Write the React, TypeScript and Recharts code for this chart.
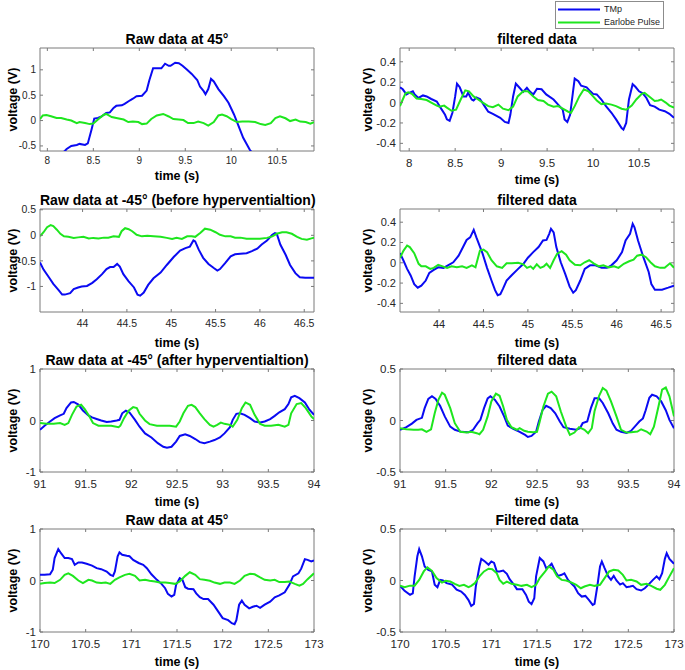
import { LineChart, Line, XAxis, YAxis, ReferenceArea, Legend } from "recharts";

type Pt = [number, number];

// raw data at 45°, 8 - 11 s
const raw45TmpA: Pt[] = [
  [7.92, -0.95], [8.1, -0.72], [8.19, -0.6], [8.21, -0.56], [8.26, -0.5], [8.32, -0.48], [8.35, -0.46],
  [8.41, -0.48], [8.44, -0.45], [8.48, -0.18], [8.51, 0.04], [8.55, 0.05], [8.59, 0.08], [8.64, 0.15],
  [8.68, 0.16], [8.72, 0.25], [8.75, 0.29], [8.81, 0.3], [8.84, 0.33], [8.9, 0.4], [8.93, 0.43],
  [8.97, 0.48], [9.03, 0.49], [9.08, 0.59], [9.11, 0.8], [9.15, 1.03], [9.19, 1.03], [9.24, 1.03],
  [9.28, 1.12], [9.32, 1.08], [9.34, 1.08], [9.39, 1.14], [9.43, 1.13], [9.47, 1.08], [9.52, 1.0],
  [9.57, 0.92], [9.63, 0.8], [9.66, 0.67], [9.7, 0.58], [9.72, 0.52], [9.75, 0.62], [9.78, 0.82],
  [9.81, 0.77], [9.86, 0.62], [9.92, 0.48], [9.97, 0.35], [10.03, 0.12], [10.08, -0.11], [10.13, -0.34],
  [10.2, -0.57], [10.22, -0.62], [10.35, -1.0],
];
const raw45EarA: Pt[] = [
  [7.92, 0.03], [7.95, 0.1], [7.99, 0.11], [8.04, 0.085], [8.1, 0.05], [8.15, 0.05], [8.21, 0.02],
  [8.26, 0], [8.32, -0.05], [8.35, -0.03], [8.41, -0.05], [8.46, -0.07], [8.5, -0.06], [8.55, 0.02],
  [8.61, 0.11], [8.64, 0.13], [8.7, 0.07], [8.75, 0.05], [8.83, 0.02], [8.88, -0.03], [8.93, -0.02],
  [8.99, -0.03], [9.03, -0.07], [9.08, -0.06], [9.13, 0.03], [9.19, 0.1], [9.26, 0.13], [9.32, 0.08],
  [9.37, 0.03], [9.43, 0.02], [9.48, 0.01], [9.53, -0.05], [9.59, -0.05], [9.64, -0.02], [9.7, -0.05],
  [9.75, -0.1], [9.81, -0.03], [9.86, 0.1], [9.9, 0.12], [9.95, 0.085], [10.0, 0.03], [10.06, -0.03],
  [10.12, -0.02], [10.19, -0.02], [10.26, -0.03], [10.32, -0.07], [10.37, -0.085], [10.43, -0.05],
  [10.48, 0.05], [10.53, 0.085], [10.59, 0.045], [10.64, -0.01], [10.7, 0.02], [10.75, -0.02],
  [10.81, -0.03], [10.86, -0.06], [10.9, -0.03],
];

// filtered data, 8 - 11 s
const filtTmpA: Pt[] = [
  [7.9, 0.15], [7.93, 0.13], [7.97, 0.08], [8.0, 0.095], [8.04, 0.11], [8.06, 0.08], [8.1, 0.045],
  [8.15, 0.07], [8.19, 0.06], [8.24, 0.035], [8.3, 0.01], [8.33, -0.035], [8.39, -0.12], [8.41, -0.165],
  [8.44, -0.18], [8.47, -0.1], [8.5, 0.06], [8.52, 0.185], [8.55, 0.15], [8.59, 0.06], [8.62, 0.06],
  [8.64, 0.095], [8.68, 0.03], [8.7, 0.02], [8.73, 0.05], [8.77, 0.035], [8.82, -0.035], [8.86, -0.09],
  [8.91, -0.11], [8.99, -0.15], [9.04, -0.19], [9.08, -0.2], [9.1, -0.12], [9.13, 0.06], [9.16, 0.185],
  [9.2, 0.145], [9.24, 0.105], [9.28, 0.145], [9.31, 0.11], [9.35, 0.08], [9.39, 0.135], [9.44, 0.13],
  [9.49, 0.08], [9.57, 0.03], [9.62, -0.02], [9.67, -0.07], [9.69, -0.165], [9.72, -0.19], [9.75, -0.12],
  [9.78, 0.095], [9.8, 0.235], [9.84, 0.21], [9.87, 0.165], [9.93, 0.15], [9.97, 0.11], [10.0, 0.085],
  [10.04, 0.08], [10.09, 0.03], [10.14, -0.035], [10.2, -0.1], [10.25, -0.165], [10.31, -0.25],
  [10.33, -0.265], [10.36, -0.2], [10.39, 0.03], [10.43, 0.18], [10.46, 0.155], [10.5, 0.11],
  [10.54, 0.09], [10.58, 0.045], [10.62, -0.025], [10.67, -0.04], [10.72, -0.07], [10.78, -0.085],
  [10.83, -0.11], [10.88, -0.15],
];
const filtEarA: Pt[] = [
  [7.9, -0.035], [7.93, 0.03], [7.96, 0.09], [7.99, 0.1], [8.03, 0.085], [8.08, 0.04], [8.13, 0.035],
  [8.19, 0.025], [8.24, 0], [8.3, -0.03], [8.33, -0.04], [8.38, -0.03], [8.41, -0.05], [8.46, -0.08],
  [8.51, -0.07], [8.56, 0.03], [8.61, 0.12], [8.65, 0.11], [8.7, 0.06], [8.75, 0.03], [8.8, 0],
  [8.86, -0.035], [8.91, -0.045], [8.97, -0.02], [9.02, -0.06], [9.08, -0.075], [9.13, -0.04],
  [9.18, 0.06], [9.24, 0.11], [9.29, 0.11], [9.35, 0.06], [9.4, 0.025], [9.46, 0.015], [9.51, -0.02],
  [9.57, -0.04], [9.62, -0.035], [9.67, -0.06], [9.73, -0.09], [9.76, -0.1], [9.8, -0.035], [9.85, 0.06],
  [9.9, 0.13], [9.95, 0.11], [10.0, 0.06], [10.04, 0.02], [10.09, -0.015], [10.14, -0.01], [10.2, -0.02],
  [10.25, -0.035], [10.31, -0.06], [10.36, -0.07], [10.42, -0.03], [10.47, 0.03], [10.53, 0.085],
  [10.56, 0.095], [10.61, 0.06], [10.67, 0.015], [10.71, 0.02], [10.74, 0.03], [10.79, 0], [10.83, -0.03],
  [10.88, -0.05],
];

// raw data at -45° before hyperventilation, 43.5 - 46.6 s
const rawBeforeTmp: Pt[] = [
  [43.52, -0.53], [43.56, -0.67], [43.62, -0.82], [43.67, -0.95], [43.73, -1.07], [43.77, -1.16],
  [43.8, -1.16], [43.86, -1.13], [43.9, -1.05], [43.95, -1.02], [43.99, -1.0], [44.05, -0.99],
  [44.11, -0.93], [44.16, -0.86], [44.22, -0.76], [44.27, -0.66], [44.31, -0.62], [44.35, -0.62],
  [44.39, -0.56], [44.42, -0.61], [44.46, -0.76], [44.52, -0.9], [44.58, -1.02], [44.62, -1.16],
  [44.65, -1.18], [44.69, -1.12], [44.74, -0.97], [44.8, -0.84], [44.88, -0.73], [44.95, -0.58],
  [45.03, -0.42], [45.1, -0.3], [45.16, -0.25], [45.21, -0.22], [45.25, -0.1], [45.27, -0.12],
  [45.31, -0.28], [45.36, -0.44], [45.42, -0.56], [45.48, -0.64], [45.52, -0.69], [45.55, -0.66],
  [45.61, -0.54], [45.67, -0.41], [45.72, -0.37], [45.78, -0.36], [45.85, -0.35], [45.91, -0.31],
  [45.97, -0.26], [46.02, -0.18], [46.08, -0.1], [46.14, 0.01], [46.17, 0.045], [46.19, 0.03],
  [46.23, -0.18], [46.29, -0.38], [46.34, -0.58], [46.4, -0.74], [46.45, -0.82], [46.51, -0.83],
  [46.62, -0.83],
];
const rawBeforeEar: Pt[] = [
  [43.52, -0.02], [43.56, 0.06], [43.6, 0.16], [43.64, 0.2], [43.67, 0.18], [43.71, 0.11], [43.75, 0.03],
  [43.79, -0.02], [43.84, -0.03], [43.9, -0.05], [43.95, -0.04], [44.01, -0.03], [44.07, -0.06],
  [44.12, -0.05], [44.18, -0.06], [44.24, -0.045], [44.29, -0.045], [44.35, -0.02], [44.41, -0.03],
  [44.44, 0.08], [44.48, 0.14], [44.52, 0.12], [44.56, 0.08], [44.61, 0.01], [44.67, -0.02],
  [44.73, -0.01], [44.8, -0.02], [44.88, -0.03], [44.95, -0.05], [45.01, -0.07], [45.06, -0.05],
  [45.12, -0.07], [45.18, -0.02], [45.23, -0.02], [45.27, -0.03], [45.33, 0.05], [45.38, 0.13],
  [45.44, 0.11], [45.5, 0.06], [45.55, 0.01], [45.61, -0.02], [45.67, -0.02], [45.72, -0.045],
  [45.78, -0.045], [45.85, -0.065], [45.93, -0.065], [46.0, -0.065], [46.08, -0.05], [46.14, -0.02],
  [46.19, 0.03], [46.25, 0.06], [46.3, 0.06], [46.36, 0.03], [46.42, -0.03], [46.47, -0.07],
  [46.53, -0.085], [46.58, -0.06], [46.62, -0.045],
];

// filtered data, 43.5 - 46.6 s
const filtTmpB: Pt[] = [
  [43.56, 0.095], [43.6, 0.02], [43.64, -0.06], [43.68, -0.125], [43.72, -0.21], [43.76, -0.245],
  [43.8, -0.225], [43.85, -0.175], [43.89, -0.1], [43.94, -0.07], [43.99, -0.045], [44.05, -0.05],
  [44.1, -0.025], [44.16, 0.005], [44.22, 0.07], [44.27, 0.155], [44.31, 0.225], [44.35, 0.25],
  [44.39, 0.325], [44.42, 0.25], [44.49, 0.09], [44.54, -0.05], [44.59, -0.175], [44.63, -0.27],
  [44.66, -0.32], [44.69, -0.31], [44.72, -0.255], [44.76, -0.175], [44.82, -0.12], [44.89, -0.06],
  [44.95, -0.01], [45.0, 0.05], [45.06, 0.105], [45.12, 0.155], [45.17, 0.22], [45.21, 0.225],
  [45.24, 0.285], [45.26, 0.335], [45.29, 0.3], [45.32, 0.155], [45.37, 0.005], [45.42, -0.11],
  [45.47, -0.235], [45.51, -0.295], [45.54, -0.27], [45.59, -0.175], [45.64, -0.06], [45.7, -0.025],
  [45.76, -0.025], [45.83, -0.05], [45.89, -0.05], [45.94, -0.025], [46.0, 0.025], [46.06, 0.105],
  [46.1, 0.22], [46.15, 0.285], [46.18, 0.385], [46.2, 0.35], [46.24, 0.22], [46.3, 0.055],
  [46.36, -0.09], [46.39, -0.21], [46.43, -0.265], [46.51, -0.265], [46.58, -0.245], [46.645, -0.225],
];
const filtEarB: Pt[] = [
  [43.56, 0.05], [43.6, 0.12], [43.64, 0.17], [43.67, 0.155], [43.72, 0.095], [43.77, -0.01],
  [43.8, -0.035], [43.85, -0.035], [43.9, -0.06], [43.94, -0.05], [43.99, -0.02], [44.04, -0.035],
  [44.09, -0.05], [44.14, -0.035], [44.2, -0.045], [44.26, -0.035], [44.31, -0.05], [44.37, -0.025],
  [44.41, -0.045], [44.44, 0.055], [44.46, 0.12], [44.5, 0.13], [44.54, 0.105], [44.59, 0.025],
  [44.65, -0.035], [44.71, -0.05], [44.76, -0.005], [44.82, -0.005], [44.89, 0], [44.95, -0.015],
  [44.99, -0.05], [45.03, -0.035], [45.06, -0.06], [45.1, -0.015], [45.14, -0.05], [45.18, -0.035],
  [45.21, -0.01], [45.25, -0.05], [45.29, 0.025], [45.33, 0.09], [45.38, 0.115], [45.43, 0.08],
  [45.47, 0.025], [45.53, -0.02], [45.59, -0.025], [45.64, 0.005], [45.69, 0.025], [45.74, -0.005],
  [45.8, -0.035], [45.85, -0.025], [45.91, -0.045], [45.97, -0.035], [46.02, -0.05], [46.08, -0.01],
  [46.14, 0.015], [46.19, 0.03], [46.23, 0.07], [46.28, 0.08], [46.33, 0.055], [46.38, 0.005],
  [46.43, -0.035], [46.49, -0.05], [46.54, -0.05], [46.6, -0.005], [46.645, -0.05],
];

// raw data at -45° after hyperventilation, 91 - 94 s
const rawAfterTmp: Pt[] = [
  [91.0, -0.18], [91.05, -0.1], [91.11, -0.02], [91.16, 0.045], [91.22, 0.1], [91.26, 0.13],
  [91.29, 0.24], [91.34, 0.35], [91.37, 0.36], [91.42, 0.31], [91.47, 0.195], [91.53, 0.1],
  [91.57, 0.06], [91.62, 0.03], [91.67, 0], [91.73, -0.03], [91.78, -0.02], [91.84, 0], [91.87, 0.013],
  [91.9, 0.14], [91.94, 0.19], [91.98, 0.155], [92.04, 0.013], [92.09, -0.12], [92.15, -0.25],
  [92.22, -0.33], [92.29, -0.44], [92.35, -0.51], [92.39, -0.53], [92.44, -0.51], [92.49, -0.41],
  [92.53, -0.3], [92.59, -0.27], [92.64, -0.3], [92.7, -0.36], [92.75, -0.42], [92.8, -0.44],
  [92.86, -0.41], [92.91, -0.38], [92.97, -0.33], [93.02, -0.25], [93.08, -0.13], [93.11, 0.013],
  [93.15, 0.13], [93.19, 0.14], [93.24, 0.11], [93.3, 0.045], [93.35, -0.02], [93.41, -0.04],
  [93.46, -0.02], [93.52, 0.026], [93.57, 0.09], [93.62, 0.16], [93.68, 0.22], [93.72, 0.32],
  [93.75, 0.45], [93.79, 0.48], [93.84, 0.435], [93.9, 0.35], [93.95, 0.21], [94.0, 0.11],
];
const rawAfterEar: Pt[] = [
  [91.0, -0.05], [91.07, -0.065], [91.15, -0.065], [91.22, -0.05], [91.27, -0.085], [91.31, -0.05],
  [91.35, 0.11], [91.4, 0.27], [91.45, 0.305], [91.49, 0.22], [91.54, 0.08], [91.58, -0.05],
  [91.64, -0.1], [91.71, -0.1], [91.78, -0.1], [91.86, -0.13], [91.88, -0.1], [91.92, 0.045],
  [91.97, 0.19], [92.02, 0.26], [92.06, 0.24], [92.09, 0.13], [92.15, 0], [92.2, -0.07], [92.28, -0.1],
  [92.35, -0.1], [92.42, -0.1], [92.49, -0.12], [92.53, -0.02], [92.57, 0.14], [92.62, 0.285],
  [92.66, 0.305], [92.7, 0.26], [92.75, 0.14], [92.8, 0.026], [92.86, -0.085], [92.9, -0.12],
  [92.94, -0.085], [92.98, -0.04], [93.02, -0.065], [93.08, -0.085], [93.11, -0.12], [93.16, 0.013],
  [93.21, 0.24], [93.25, 0.35], [93.3, 0.305], [93.35, 0.11], [93.41, -0.065], [93.46, -0.1],
  [93.53, -0.1], [93.61, -0.085], [93.68, -0.12], [93.72, -0.085], [93.75, 0.14], [93.81, 0.32],
  [93.86, 0.34], [93.91, 0.24], [93.97, 0.08], [94.0, 0.026],
];

// filtered data, 91 - 94 s
const filtTmpC: Pt[] = [
  [91.0, -0.09], [91.07, -0.065], [91.13, -0.03], [91.18, 0.006], [91.24, 0.026], [91.27, 0.12],
  [91.31, 0.21], [91.35, 0.235], [91.39, 0.21], [91.44, 0.14], [91.49, 0.04], [91.55, -0.06],
  [91.6, -0.09], [91.67, -0.11], [91.75, -0.115], [91.8, -0.09], [91.85, -0.026], [91.88, 0.006],
  [91.92, 0.12], [91.96, 0.215], [91.99, 0.235], [92.04, 0.2], [92.09, 0.136], [92.14, 0.04],
  [92.18, -0.05], [92.24, -0.08], [92.31, -0.11], [92.37, -0.14], [92.4, -0.16], [92.44, -0.15],
  [92.49, -0.11], [92.52, -0.01], [92.56, 0.1], [92.6, 0.143], [92.65, 0.12], [92.7, 0.07],
  [92.75, -0.01], [92.79, -0.065], [92.86, -0.08], [92.93, -0.09], [92.97, -0.075], [93.0, -0.026],
  [93.05, -0.01], [93.09, 0.12], [93.13, 0.215], [93.18, 0.215], [93.22, 0.17], [93.28, 0.07],
  [93.33, -0.03], [93.37, -0.09], [93.42, -0.11], [93.48, -0.12], [93.53, -0.1], [93.59, -0.04],
  [93.62, -0.01], [93.66, 0.02], [93.69, 0.1], [93.73, 0.22], [93.76, 0.25], [93.81, 0.235],
  [93.86, 0.185], [93.91, 0.1], [93.95, 0.006], [94.0, -0.075],
];
const filtEarC: Pt[] = [
  [91.0, -0.075], [91.07, -0.085], [91.15, -0.09], [91.2, -0.09], [91.24, -0.085], [91.29, -0.11],
  [91.34, -0.085], [91.38, 0.07], [91.42, 0.2], [91.46, 0.27], [91.49, 0.25], [91.55, 0.12],
  [91.6, -0.026], [91.66, -0.11], [91.73, -0.117], [91.78, -0.11], [91.84, -0.123], [91.87, -0.133],
  [91.91, -0.09], [91.96, 0.04], [92.0, 0.185], [92.05, 0.26], [92.09, 0.24], [92.13, 0.136],
  [92.17, 0.006], [92.22, -0.065], [92.28, -0.09], [92.31, -0.075], [92.36, -0.1], [92.4, -0.11],
  [92.46, -0.115], [92.5, -0.11], [92.53, -0.01], [92.57, 0.136], [92.62, 0.26], [92.66, 0.28],
  [92.71, 0.235], [92.76, 0.09], [92.82, -0.06], [92.86, -0.14], [92.91, -0.117], [92.96, -0.065],
  [93.02, -0.09], [93.06, -0.123], [93.1, -0.075], [93.13, 0.09], [93.18, 0.24], [93.22, 0.315],
  [93.26, 0.29], [93.31, 0.185], [93.37, 0.04], [93.42, -0.09], [93.48, -0.117], [93.53, -0.114],
  [93.6, -0.107], [93.64, -0.085], [93.7, -0.107], [93.74, -0.133], [93.78, -0.06], [93.83, 0.136],
  [93.87, 0.3], [93.91, 0.32], [93.95, 0.235], [94.0, 0.04],
];

// raw data at 45°, 170 - 173 s
const raw45TmpD: Pt[] = [
  [170.0, 0.11], [170.05, 0.11], [170.11, 0.12], [170.14, 0.21], [170.16, 0.435], [170.2, 0.61],
  [170.23, 0.53], [170.27, 0.435], [170.31, 0.435], [170.35, 0.415], [170.38, 0.305], [170.42, 0.35],
  [170.46, 0.35], [170.51, 0.325], [170.57, 0.29], [170.62, 0.24], [170.67, 0.22], [170.73, 0.175],
  [170.77, 0.11], [170.8, 0.09], [170.82, 0.175], [170.85, 0.47], [170.87, 0.545], [170.9, 0.5],
  [170.95, 0.48], [170.98, 0.47], [171.02, 0.4], [171.08, 0.34], [171.13, 0.305], [171.17, 0.24],
  [171.22, 0.12], [171.28, 0.013], [171.33, -0.065], [171.37, -0.15], [171.4, -0.26], [171.44, -0.31],
  [171.47, -0.28], [171.49, -0.085], [171.53, 0.045], [171.56, 0.013], [171.59, -0.13], [171.62, -0.16],
  [171.68, -0.17], [171.71, -0.25], [171.75, -0.325], [171.79, -0.36], [171.84, -0.36], [171.9, -0.47],
  [171.95, -0.6], [172.0, -0.73], [172.06, -0.77], [172.1, -0.83], [172.13, -0.85], [172.15, -0.77],
  [172.18, -0.47], [172.21, -0.39], [172.24, -0.47], [172.29, -0.54], [172.33, -0.51], [172.37, -0.49],
  [172.41, -0.53], [172.46, -0.47], [172.52, -0.41], [172.57, -0.325], [172.62, -0.29], [172.68, -0.23],
  [172.73, -0.085], [172.77, 0.08], [172.83, 0.14], [172.86, 0.23], [172.9, 0.415], [172.93, 0.4],
  [172.97, 0.37], [173.0, 0.39],
];
const raw45EarD: Pt[] = [
  [170.0, -0.065], [170.05, -0.05], [170.11, -0.04], [170.16, -0.05], [170.22, 0.013], [170.27, 0.11],
  [170.31, 0.14], [170.36, 0.09], [170.42, 0], [170.47, -0.05], [170.53, 0.013], [170.57, 0],
  [170.62, -0.04], [170.67, -0.05], [170.72, -0.04], [170.77, -0.065], [170.82, 0.013], [170.87, 0.06],
  [170.93, 0.11], [170.98, 0.13], [171.04, 0.09], [171.09, 0], [171.15, 0.013], [171.2, -0.006],
  [171.26, -0.02], [171.31, -0.04], [171.37, -0.04], [171.42, -0.05], [171.48, -0.065], [171.53, -0.02],
  [171.59, 0.09], [171.64, 0.16], [171.7, 0.11], [171.75, 0.026], [171.8, 0.013], [171.86, -0.006],
  [171.91, -0.04], [171.97, -0.065], [172.02, -0.04], [172.08, -0.04], [172.13, -0.065], [172.19, 0],
  [172.24, 0.09], [172.3, 0.13], [172.35, 0.12], [172.41, 0.06], [172.46, 0.013], [172.52, 0],
  [172.57, 0.013], [172.62, -0.03], [172.68, -0.03], [172.73, -0.02], [172.79, -0.065], [172.84, -0.1],
  [172.88, -0.065], [172.93, 0.026], [173.0, 0.14],
];

// filtered data, 170 - 173 s
const filtTmpD: Pt[] = [
  [170.0, -0.05], [170.05, -0.1], [170.11, -0.14], [170.14, -0.125], [170.16, 0.04], [170.19, 0.235],
  [170.21, 0.305], [170.24, 0.235], [170.27, 0.136], [170.31, 0.104], [170.35, 0.088], [170.38, -0.04],
  [170.41, -0.065], [170.44, 0.006], [170.47, 0], [170.51, -0.026], [170.57, -0.04], [170.62, -0.09],
  [170.67, -0.107], [170.71, -0.14], [170.75, -0.19], [170.78, -0.247], [170.81, -0.227],
  [170.83, -0.058], [170.87, 0.136], [170.89, 0.21], [170.93, 0.185], [170.97, 0.153], [171.0, 0.185],
  [171.03, 0.17], [171.06, 0.088], [171.09, 0.088], [171.13, 0.097], [171.17, 0.065], [171.2, 0.013],
  [171.24, -0.032], [171.28, -0.084], [171.31, -0.084], [171.34, -0.084], [171.38, -0.14],
  [171.41, -0.205], [171.44, -0.23], [171.47, -0.172], [171.49, 0.04], [171.53, 0.218], [171.57, 0.185],
  [171.6, 0.12], [171.63, 0.136], [171.66, 0.162], [171.7, 0.088], [171.73, 0.045], [171.77, 0.055],
  [171.8, 0.07], [171.84, 0.006], [171.88, -0.032], [171.91, -0.058], [171.95, -0.123], [171.99, -0.156],
  [172.03, -0.15], [172.07, -0.19], [172.11, -0.237], [172.13, -0.227], [172.16, -0.058], [172.19, 0.136],
  [172.21, 0.185], [172.24, 0.12], [172.28, 0.04], [172.31, 0.006], [172.34, 0.045], [172.37, 0],
  [172.41, -0.04], [172.44, -0.026], [172.48, -0.065], [172.52, -0.058], [172.55, -0.052],
  [172.59, -0.084], [172.64, -0.097], [172.68, -0.075], [172.72, -0.04], [172.77, 0.006], [172.81, 0.04],
  [172.84, 0.013], [172.87, 0.07], [172.9, 0.21], [172.92, 0.265], [172.95, 0.21], [173.0, 0.162],
];
const filtEarD: Pt[] = [
  [170.0, -0.05], [170.05, -0.065], [170.11, -0.05], [170.16, -0.05], [170.21, 0.006], [170.26, 0.088],
  [170.3, 0.127], [170.35, 0.094], [170.4, 0.023], [170.46, -0.02], [170.5, -0.003], [170.55, -0.01],
  [170.6, -0.032], [170.65, -0.052], [170.7, -0.042], [170.75, -0.065], [170.78, -0.052],
  [170.82, -0.026], [170.87, 0.04], [170.92, 0.088], [170.97, 0.114], [171.01, 0.11], [171.06, 0.07],
  [171.09, 0.006], [171.13, -0.032], [171.17, -0.01], [171.22, -0.032], [171.28, -0.042],
  [171.33, -0.052], [171.39, -0.042], [171.44, -0.065], [171.49, -0.042], [171.53, 0.023],
  [171.59, 0.088], [171.63, 0.136], [171.68, 0.104], [171.72, 0.04], [171.77, 0.006], [171.82, 0],
  [171.88, -0.02], [171.93, -0.042], [171.98, -0.075], [172.02, -0.058], [172.08, -0.042],
  [172.13, -0.052], [172.19, -0.042], [172.24, 0.023], [172.29, 0.088], [172.34, 0.104], [172.39, 0.097],
  [172.44, 0.055], [172.48, 0], [172.53, 0.006], [172.59, -0.01], [172.64, -0.042], [172.7, -0.032],
  [172.75, -0.052], [172.81, -0.08], [172.85, -0.09], [172.9, -0.042], [172.95, 0.04], [173.0, 0.12],
];

const xTicks8 = [8, 8.5, 9, 9.5, 10, 10.5];
const xTicks44 = [44, 44.5, 45, 45.5, 46, 46.5];
const xTicks91 = [91, 91.5, 92, 92.5, 93, 93.5, 94];
const xTicks170 = [170, 170.5, 171, 171.5, 172, 172.5, 173];
const yTicksRawA = [-0.5, 0, 0.5, 1];
const yTicksRawB = [-1, -0.5, 0, 0.5];
const yTicksFilt = [-0.4, -0.2, 0, 0.2, 0.4];
const yTicksOne = [-1, 0, 1];
const yTicksHalf = [-0.5, 0, 0.5];
const seriesNames = ["TMp", "Earlobe Pulse"];

const BLUE = "#0a0af2";
const GREEN = "#1ee61e";
const AXIS = "#7a7a7a";
const TICK = "#262626";
const FONT = '"Liberation Sans", Arial, Helvetica, sans-serif';

const PW = 274; // plot width
const PH = 103; // plot height
const YW = 40;
const MR = 12;
const XH = 40;

const toRows = (pts: Pt[]) => pts.map(([t, v]) => ({ t, v }));

function LegendBox({ payload }: any) {
  const items = [...(payload || [])].sort(
    (a: any, b: any) => seriesNames.indexOf(a.value) - seriesNames.indexOf(b.value)
  );
  return (
    <div
      style={{
        width: 109,
        height: 28,
        boxSizing: "border-box",
        border: "1px solid #8c8c8c",
        background: "#fff",
        paddingTop: 1,
      }}
    >
      {items.map((p: any) => (
        <div key={p.value} style={{ display: "flex", alignItems: "center", height: 13 }}>
          <svg width={44} height={13} style={{ marginLeft: 2 }}>
            <line x1={0} x2={42} y1={6.5} y2={6.5} stroke={p.color} strokeWidth={2} />
          </svg>
          <span style={{ fontSize: 9, color: TICK, marginLeft: 2, lineHeight: "13px" }}>{p.value}</span>
        </div>
      ))}
    </div>
  );
}

interface PanelProps {
  left: number;
  top: number;
  title: string;
  titleY: number;
  tmp: Pt[];
  ear: Pt[];
  xDomain: [number, number];
  yDomain: [number, number];
  xTicks: number[];
  yTicks: number[];
  fs: number;
  tickGap: number;
  labelY: number;
  ylabelX: number;
  legend?: boolean;
}

function Panel(p: PanelProps) {
  const mt = p.legend ? p.top : 10;
  const xTick = (props: any) => {
    const { x, y, payload } = props;
    return (
      <g>
        <line x1={x} x2={x} y1={y} y2={y - 3} stroke={AXIS} />
        <line x1={x} x2={x} y1={y - PH} y2={y - PH + 3} stroke={AXIS} />
        <text x={x} y={y + p.tickGap} dy="0.71em" textAnchor="middle" fontSize={p.fs} fill={TICK}>
          {String(payload.value)}
        </text>
      </g>
    );
  };
  const yTick = (props: any) => {
    const { x, y, payload } = props;
    return (
      <g>
        <line x1={x} x2={x + 3} y1={y} y2={y} stroke={AXIS} />
        <line x1={x + PW - 3} x2={x + PW} y1={y} y2={y} stroke={AXIS} />
        <text x={x - 4} y={y} dy="0.35em" textAnchor="end" fontSize={p.fs} fill={TICK}>
          {String(payload.value)}
        </text>
      </g>
    );
  };
  return (
    <>
      <div
        style={{
          position: "absolute",
          left: p.left,
          top: p.titleY - 8,
          width: PW,
          height: 16,
          lineHeight: "16px",
          textAlign: "center",
          fontSize: 14,
          fontWeight: "bold",
          color: "#000",
          whiteSpace: "nowrap",
        }}
      >
        {p.title}
      </div>
      <div style={{ position: "absolute", left: p.left - YW, top: p.top - mt }}>
        <LineChart
          width={YW + PW + MR}
          height={mt + PH + XH}
          margin={{ top: mt, right: MR, bottom: 0, left: 0 }}
        >
          <XAxis
            dataKey="t"
            type="number"
            domain={p.xDomain}
            ticks={p.xTicks}
            allowDataOverflow
            interval={0}
            tickSize={0}
            tickMargin={0}
            axisLine={false}
            tick={xTick}
            height={XH}
            label={{
              value: "time (s)",
              position: "insideBottom",
              offset: XH - (p.labelY + 4.5),
              fontSize: 12.5,
              fontWeight: "bold",
              fill: "#000",
            }}
          />
          <YAxis
            type="number"
            domain={p.yDomain}
            ticks={p.yTicks}
            allowDataOverflow
            interval={0}
            tickSize={0}
            tickMargin={0}
            axisLine={false}
            tick={yTick}
            width={YW}
            label={{
              value: "voltage (V)",
              angle: -90,
              position: "insideLeft",
              offset: p.ylabelX,
              fontSize: 12.5,
              fontWeight: "bold",
              fill: "#000",
              style: { textAnchor: "middle" },
            }}
          />
          <ReferenceArea
            x1={p.xDomain[0]}
            x2={p.xDomain[1]}
            y1={p.yDomain[0]}
            y2={p.yDomain[1]}
            fill="none"
            stroke={AXIS}
            strokeWidth={1}
          />
          <Line
            data={toRows(p.tmp)}
            dataKey="v"
            name={seriesNames[0]}
            type="linear"
            stroke={BLUE}
            strokeWidth={2}
            dot={false}
            isAnimationActive={false}
          />
          <Line
            data={toRows(p.ear)}
            dataKey="v"
            name={seriesNames[1]}
            type="linear"
            stroke={GREEN}
            strokeWidth={2}
            dot={false}
            isAnimationActive={false}
          />
          {p.legend && (
            <Legend
              layout="horizontal"
              verticalAlign="middle"
              align="center"
              content={LegendBox}
              wrapperStyle={{ left: 195, top: 1, width: 112, height: 30 }}
            />
          )}
        </LineChart>
      </div>
    </>
  );
}

export default function App() {
  return (
    <div
      style={{
        position: "absolute",
        left: 0,
        top: 0,
        width: 685,
        height: 670,
        background: "#fff",
        fontFamily: FONT,
        overflow: "hidden",
      }}
    >
      <Panel
        left={40} top={48} title="Raw data at 45°" titleY={39}
        tmp={raw45TmpA} ear={raw45EarA}
        xDomain={[7.92, 10.9]} yDomain={[-0.6, 1.43]}
        xTicks={xTicks8} yTicks={yTicksRawA}
        fs={10} tickGap={5.5} labelY={24} ylabelX={12.5}
      />
      <Panel
        left={400} top={48} title="filtered data" titleY={39}
        tmp={filtTmpA} ear={filtEarA}
        xDomain={[7.9, 10.88]} yDomain={[-0.475, 0.535]}
        xTicks={xTicks8} yTicks={yTicksFilt}
        fs={11.5} tickGap={7.5} labelY={28} ylabelX={8} legend
      />
      <Panel
        left={40} top={209} title="Raw data at -45° (before hyperventialtion)" titleY={200}
        tmp={rawBeforeTmp} ear={rawBeforeEar}
        xDomain={[43.52, 46.61]} yDomain={[-1.5, 0.515]}
        xTicks={xTicks44} yTicks={yTicksRawB}
        fs={10.5} tickGap={8} labelY={30} ylabelX={12.5}
      />
      <Panel
        left={400} top={209} title="filtered data" titleY={200}
        tmp={filtTmpB} ear={filtEarB}
        xDomain={[43.56, 46.645]} yDomain={[-0.485, 0.53]}
        xTicks={xTicks44} yTicks={yTicksFilt}
        fs={11} tickGap={8} labelY={30} ylabelX={8}
      />
      <Panel
        left={40} top={369} title="Raw data at -45° (after hyperventialtion)" titleY={360}
        tmp={rawAfterTmp} ear={rawAfterEar}
        xDomain={[91, 94]} yDomain={[-1, 1]}
        xTicks={xTicks91} yTicks={yTicksOne}
        fs={11.5} tickGap={7.5} labelY={29} ylabelX={12.5}
      />
      <Panel
        left={400} top={369} title="filtered data" titleY={359.5}
        tmp={filtTmpC} ear={filtEarC}
        xDomain={[91, 94]} yDomain={[-0.5, 0.5]}
        xTicks={xTicks91} yTicks={yTicksHalf}
        fs={11.5} tickGap={7.5} labelY={29} ylabelX={8}
      />
      <Panel
        left={40} top={529} title="Raw data at 45°" titleY={519.5}
        tmp={raw45TmpD} ear={raw45EarD}
        xDomain={[170, 173]} yDomain={[-1, 1]}
        xTicks={xTicks170} yTicks={yTicksOne}
        fs={11.5} tickGap={7.5} labelY={29} ylabelX={12.5}
      />
      <Panel
        left={400} top={529} title="Filtered data" titleY={519.5}
        tmp={filtTmpD} ear={filtEarD}
        xDomain={[170, 173]} yDomain={[-0.5, 0.5]}
        xTicks={xTicks170} yTicks={yTicksHalf}
        fs={11.5} tickGap={7.5} labelY={29} ylabelX={8}
      />
    </div>
  );
}
